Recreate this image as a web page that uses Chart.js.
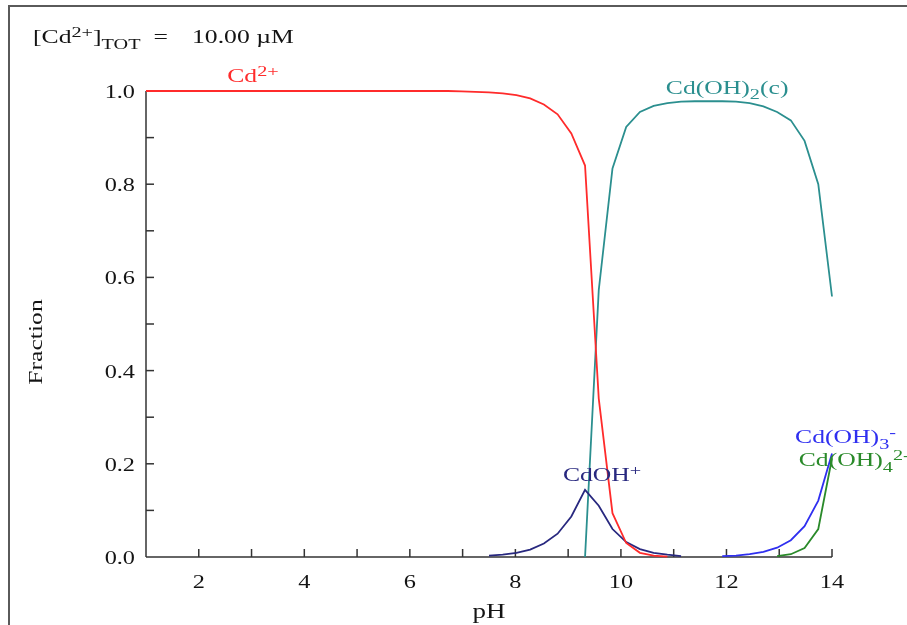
<!DOCTYPE html>
<html>
<head>
<meta charset="utf-8">
<title>Cd(II) fraction diagram</title>
<script src="https://cdn.jsdelivr.net/npm/chart.js@4.4.1/dist/chart.umd.min.js"></script>
<style>
  html, body { margin: 0; padding: 0; background: #fff; }
  #wrap { position: relative; width: 907px; height: 625px; }
</style>
</head>
<body>
<div id="wrap"><canvas id="fractionChart"></canvas></div>
<script>
// pH grid of the calculation
const pH = [
  1.00, 1.26, 1.52, 1.78, 2.04, 2.30, 2.56, 2.82, 3.08, 3.34,
  3.60, 3.86, 4.12, 4.38, 4.64, 4.90, 5.16, 5.42, 5.68, 5.94,
  6.20, 6.46, 6.72, 6.98, 7.24, 7.50, 7.76, 8.02, 8.28, 8.54,
  8.80, 9.06, 9.32, 9.58, 9.84, 10.10, 10.36, 10.62, 10.88, 11.14,
  11.40, 11.66, 11.92, 12.18, 12.44, 12.70, 12.96, 13.22, 13.48, 13.74,
  14.00
];

const cd = [
  1.000, 1.000, 1.000, 1.000, 1.000, 1.000, 1.000, 1.000, 1.000, 1.000,
  1.000, 1.000, 1.000, 1.000, 1.000, 1.000, 1.000, 1.000, 1.000, 1.000,
  1.000, 1.000, 1.000, 0.999, 0.998, 0.997, 0.995, 0.991, 0.984, 0.971,
  0.950, 0.909, 0.840, 0.340, 0.094, 0.030, 0.009, 0.003, 0.001, null,
  null, null, null, null, null, null, null, null, null, null,
  null
];

const cdOH = [
  null, null, null, null, null, null, null, null, null, null,
  null, null, null, null, null, null, null, null, null, null,
  null, null, null, null, null, 0.003, 0.005, 0.009, 0.016, 0.029,
  0.050, 0.087, 0.144, 0.110, 0.060, 0.032, 0.017, 0.009, 0.005, 0.002,
  null, null, null, null, null, null, null, null, null, null,
  null
];

const cdOH2c = [
  null, null, null, null, null, null, null, null, null, null,
  null, null, null, null, null, null, null, null, null, null,
  null, null, null, null, null, null, null, null, null, null,
  null, null, 0.000, 0.573, 0.834, 0.923, 0.955, 0.968, 0.974, 0.977,
  0.978, 0.978, 0.978, 0.977, 0.974, 0.967, 0.955, 0.937, 0.893, 0.800,
  0.559
];

const cdOH3 = [
  null, null, null, null, null, null, null, null, null, null,
  null, null, null, null, null, null, null, null, null, null,
  null, null, null, null, null, null, null, null, null, null,
  null, null, null, null, null, null, null, null, null, null,
  null, null, 0.002, 0.003, 0.006, 0.011, 0.020, 0.036, 0.066, 0.121,
  0.222
];

const cdOH4 = [
  null, null, null, null, null, null, null, null, null, null,
  null, null, null, null, null, null, null, null, null, null,
  null, null, null, null, null, null, null, null, null, null,
  null, null, null, null, null, null, null, null, null, null,
  null, null, null, null, null, null, 0.002, 0.006, 0.019, 0.060,
  0.212
];

const RED = '#ff2b2b';
const TEAL = '#2b8f8f';
const NAVY = '#28287f';
const BLUE = '#2f2ff0';
const GREEN = '#2a8a2a';
const INK = '#141414';

const FONT = '"Liberation Serif", "Times New Roman", serif';
const STRETCH = 1.35;

// rich text parts: [text, 0 normal | 1 superscript | -1 subscript]
const speciesLabels = [
  { parts: [['Cd', 0], ['2+', 1]], at: [2.54, 1.019], color: RED },
  { parts: [['Cd(OH)', 0], ['2', -1], ['(c)', 0]], at: [10.85, 0.994], color: TEAL },
  { parts: [['CdOH', 0], ['+', 1]], at: [8.90, 0.163], color: NAVY },
  { parts: [['Cd(OH)', 0], ['3', -1], ['-', 1]], at: [13.30, 0.245], color: BLUE },
  { parts: [['Cd(OH)', 0], ['4', -1], ['2-', 1]], at: [13.37, 0.195], color: GREEN }
];

function toPoints(values) {
  return pH.map((x, i) => ({ x, y: values[i] }));
}

function partFont(size, mode) {
  return `${mode === 0 ? size : Math.round(size * 0.78)}px ${FONT}`;
}

function richWidth(ctx, parts, size) {
  let w = 0;
  parts.forEach(([text, mode]) => {
    ctx.font = partFont(size, mode);
    w += ctx.measureText(text).width;
  });
  return w;
}

function drawRich(ctx, parts, x, y, size, color, align = 'left') {
  ctx.save();
  ctx.translate(x, y);
  ctx.scale(STRETCH, 1);
  ctx.fillStyle = color;
  ctx.textBaseline = 'alphabetic';
  ctx.textAlign = 'left';
  let cx = 0;
  const w = richWidth(ctx, parts, size);
  if (align === 'right') cx = -w;
  if (align === 'center') cx = -w / 2;
  parts.forEach(([text, mode]) => {
    ctx.font = partFont(size, mode);
    const dy = mode === 1 ? -size * 0.33 : mode === -1 ? size * 0.3 : 0;
    ctx.fillText(text, cx, dy);
    cx += ctx.measureText(text).width;
  });
  ctx.restore();
}

function strokeLine(ctx, x1, y1, x2, y2) {
  ctx.beginPath();
  ctx.moveTo(x1, y1);
  ctx.lineTo(x2, y2);
  ctx.stroke();
}

const axesPlugin = {
  id: 'axesPlugin',
  beforeDatasetsDraw(chart) {
    const { ctx, chartArea: area, scales: { x, y } } = chart;
    ctx.save();
    // figure frame
    ctx.strokeStyle = '#5a5a5a';
    ctx.lineWidth = 2;
    ctx.beginPath();
    ctx.moveTo(9, 625);
    ctx.lineTo(9, 6);
    ctx.lineTo(907, 6);
    ctx.stroke();

    ctx.strokeStyle = '#333';
    ctx.lineWidth = 1.5;
    strokeLine(ctx, area.left, area.top, area.left, area.bottom);
    strokeLine(ctx, area.left, area.bottom, area.right, area.bottom);

    // inward ticks
    y.ticks.forEach((t) => {
      if (t.value <= y.min) return;
      const py = y.getPixelForValue(t.value);
      strokeLine(ctx, area.left, py, area.left + 8, py);
    });
    x.ticks.forEach((t) => {
      if (t.value <= x.min) return;
      const px = x.getPixelForValue(t.value);
      strokeLine(ctx, px, area.bottom, px, area.bottom - 8);
    });
    ctx.restore();
  },
  afterDatasetsDraw(chart) {
    const { ctx, chartArea: area, scales: { x, y } } = chart;

    y.ticks.forEach((t) => {
      if (!t.label) return;
      drawRich(ctx, [[t.label, 0]], area.left - 11, y.getPixelForValue(t.value) + 7, 18, INK, 'right');
    });
    x.ticks.forEach((t) => {
      if (!t.label) return;
      drawRich(ctx, [[t.label, 0]], x.getPixelForValue(t.value), area.bottom + 31, 18, INK, 'center');
    });

    // axis titles
    drawRich(ctx, [['pH', 0]], (area.left + area.right) / 2, 618, 20, INK, 'center');
    ctx.save();
    ctx.translate(42, 342);
    ctx.rotate(-Math.PI / 2);
    drawRich(ctx, [['Fraction', 0]], 0, 0, 19, INK, 'center');
    ctx.restore();

    // total concentration
    drawRich(ctx, [['[Cd', 0], ['2+', 1], [']', 0], ['TOT', -1], ['  =', 0]], 33, 43, 19, INK);
    drawRich(ctx, [['10.00 \u00b5M', 0]], 192, 43, 19, INK);

    speciesLabels.forEach((lab) => {
      drawRich(ctx, lab.parts, x.getPixelForValue(lab.at[0]), y.getPixelForValue(lab.at[1]), 19, lab.color);
    });
  }
};

const series = [
  { label: 'Cd2+', data: cd, color: RED },
  { label: 'CdOH+', data: cdOH, color: NAVY },
  { label: 'Cd(OH)2(c)', data: cdOH2c, color: TEAL },
  { label: 'Cd(OH)3-', data: cdOH3, color: BLUE },
  { label: 'Cd(OH)4 2-', data: cdOH4, color: GREEN }
];

const ctx = document.getElementById('fractionChart').getContext('2d');
new Chart(ctx, {
  type: 'line',
  data: {
    datasets: series.map((s) => ({
      label: s.label,
      data: toPoints(s.data),
      borderColor: s.color,
      backgroundColor: s.color,
      borderWidth: 1.8,
      pointRadius: 0,
      tension: 0,
      fill: false,
      spanGaps: false,
      clip: 3
    }))
  },
  options: {
    responsive: true,
    maintainAspectRatio: false,
    animation: false,
    layout: { padding: { left: 0, top: 91, right: 75, bottom: 0 } },
    plugins: {
      legend: { display: false },
      tooltip: { enabled: false },
      title: { display: false }
    },
    scales: {
      x: {
        type: 'linear',
        min: 1,
        max: 14,
        grid: { display: false },
        border: { display: false },
        ticks: {
          display: false,
          stepSize: 1,
          autoSkip: false,
          callback: (value) => (value % 2 === 0 ? String(value) : '')
        },
        afterFit: (scale) => { scale.height = 68; }
      },
      y: {
        min: 0,
        max: 1,
        grid: { display: false },
        border: { display: false },
        ticks: {
          display: false,
          stepSize: 0.1,
          autoSkip: false,
          callback: (value) => (Math.round(value * 10) % 2 === 0 ? value.toFixed(1) : '')
        },
        afterFit: (scale) => { scale.width = 146; }
      }
    }
  },
  plugins: [axesPlugin]
});
</script>
</body>
</html>
